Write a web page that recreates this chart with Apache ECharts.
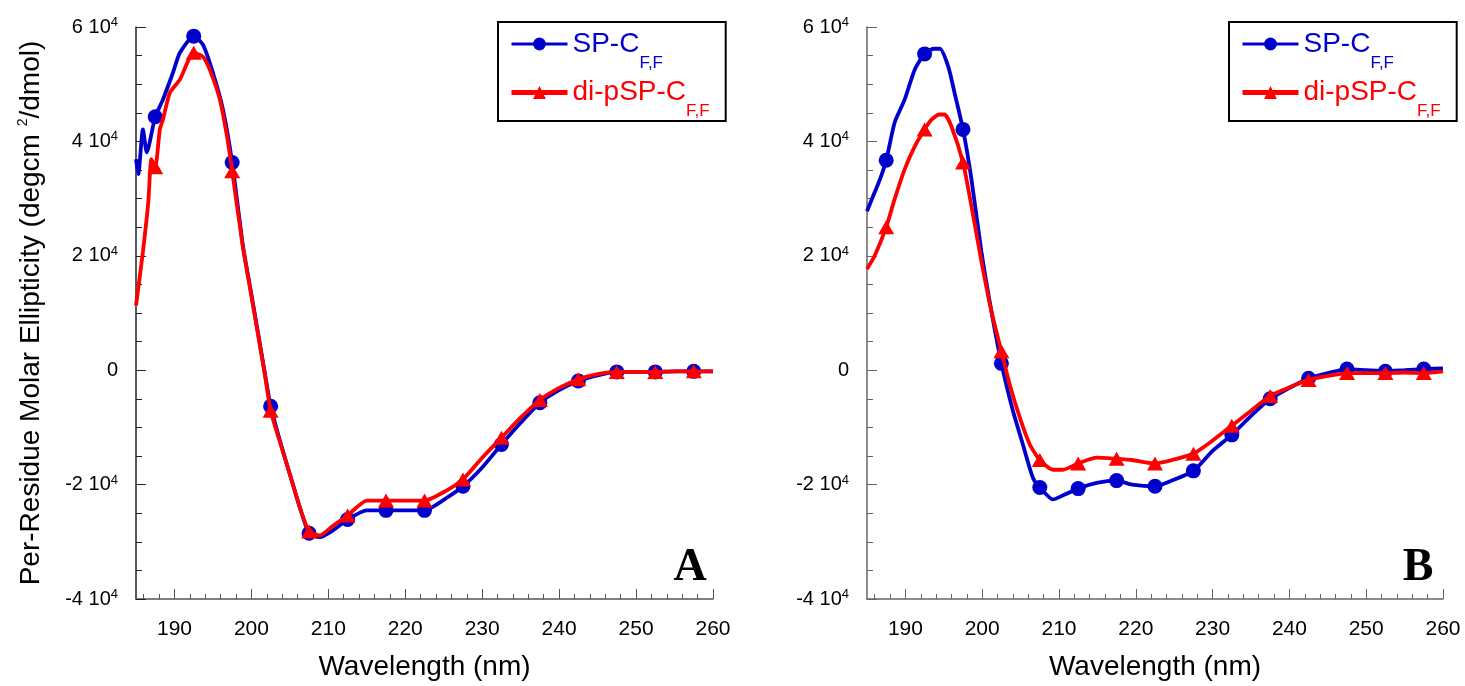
<!DOCTYPE html>
<html><head><meta charset="utf-8">
<script src="https://cdn.jsdelivr.net/npm/echarts@6/dist/echarts.min.js"></script>
<style>html,body{margin:0;padding:0;background:#fff}#c{width:1465px;height:686px}</style>
</head><body><div id="c"></div>
<script>
// ---- data ----
const seriesNames = ['SP-C', 'di-pSP-C'];
const panelLetters = ['A', 'B'];
const markerWavelengths = [187.5, 192.5, 197.5, 202.5, 207.5, 212.5, 217.5, 222.5, 227.5, 232.5, 237.5, 242.5, 247.5, 252.5, 257.5];
const xMajorTicks = [190, 200, 210, 220, 230, 240, 250, 260];
const xMinorTicks = [186, 188, 192, 194, 196, 198, 202, 204, 206, 208, 212, 214, 216, 218, 222, 224, 226, 228, 232, 234, 236, 238, 242, 244, 246, 248, 252, 254, 256, 258];
const yTicks = [-40000, -20000, 0, 20000, 40000, 60000];

// Panel A
const wlA_SP = [185,185.3,185.9,186.4,187.5,188.5,189.8,190.7,192.5,193.7,195,196.3,197.5,198.9,199.8,200.7,201.8,202.5,203.7,205,206.3,207.5,208.9,210.6,212.5,215,217.5,220,222.5,225.4,227.5,230,232.5,235,237.5,240,242.5,245,247.5,250,252.5,255,257.5,260];
const valA_SP = [36900,34300,42100,38100,44300,47300,52000,55500,58400,56900,52000,45600,36300,21700,14800,7800,-900,-6300,-12300,-18200,-24000,-28500,-29200,-28000,-26100,-24500,-24500,-24500,-24500,-22300,-20300,-17000,-13000,-9200,-5700,-3500,-1900,-900,-300,-300,-300,-200,-200,-200];
const wlA_DI = [185,185.9,186.6,187,187.5,188.1,188.5,189.4,190.7,192.5,193.7,194.6,195.9,196.9,197.5,198.9,199.8,200.7,201.8,202.5,203.7,205,206.3,207.5,208.9,210.6,212.5,215,217.5,220,222.5,225.4,227.5,230,232.5,235,237.5,240,242.5,245,247.5,250,252.5,255,257.5,260];
const valA_DI = [11300,20700,29400,36900,35500,42100,43800,48500,50800,55500,54800,52500,47300,40300,34800,21500,14500,7500,-1200,-7100,-12500,-18200,-24000,-28200,-28900,-27200,-25400,-22800,-22800,-22800,-22800,-21000,-19100,-15300,-11800,-8300,-5200,-3100,-1600,-700,-300,-300,-300,-200,-200,-200];

// Panel B
const wlB_SP = [185,186,186.7,187.5,188.6,189.9,191.2,192.5,193.7,194.5,195.6,196.4,197.5,198.6,199.9,201.2,202.5,204,205.3,206.6,207.5,209.2,210.5,212.5,214.9,217.5,219.5,222.5,224.7,227.5,230,232.5,235,237.5,240,242.5,245,247.5,250,252.5,255,257.5,260];
const valB_SP = [27800,31100,33400,36700,43300,47300,52500,55300,56200,56200,53000,48500,42100,33400,20700,10300,1200,-7100,-13000,-18800,-20500,-22600,-21900,-20700,-19700,-19300,-20000,-20300,-19300,-17600,-14100,-11300,-8000,-5000,-3100,-1400,-500,200,0,-200,0,200,300];
const wlB_DI = [185,186,187.5,188.6,189.9,191.2,192.5,193.4,194.4,195.1,196,197.5,198.6,199.9,201.2,202.5,203.6,204.9,206.2,207.5,209.2,210.5,212.5,214.9,217.5,219.5,222.5,224.7,227.5,230,232.5,235,237.5,240,242.5,245,247.5,250,252.5,255,257.5,260];
const valB_DI = [17700,20000,25000,29900,35100,39100,42100,43800,44700,44700,42600,36300,28700,19000,10300,3300,-2600,-8300,-13000,-15700,-17400,-17400,-16300,-15300,-15500,-15700,-16300,-15700,-14600,-12300,-9700,-7100,-4500,-3000,-1700,-1000,-500,-500,-500,-400,-500,-200];

// ---- chart ----
const FONT = '"Liberation Sans", Arial, Helvetica, sans-serif';
const BLUE = '#0000CC', RED = '#FF0000';

function build(wl, vals) {
  return wl.map((x, i) => markerWavelengths.indexOf(x) >= 0
    ? { value: [x, vals[i]] }
    : { value: [x, vals[i]], symbol: 'none' });
}

const gridL = { left: 136, right: 752, top: 27, bottom: 84 };
const gridR = { left: 867, right: 22, top: 27, bottom: 84 };

function yFmt(v) {
  if (v === 0) return '{n|0}';
  return '{n|' + (v / 10000) + ' 10}{p|4}';
}

function mkX(gi, color) {
  return [{
    type: 'value', gridIndex: gi, min: 185, max: 260, position: 'bottom',
    axisLine: { show: true, onZero: false, lineStyle: { color: color, width: 1.5 } },
    axisTick: { show: true, inside: true, length: 10, customValues: xMajorTicks, lineStyle: { color: color, width: 1 } },
    axisLabel: { show: true, customValues: xMajorTicks, fontSize: 21, color: '#000', fontFamily: FONT, margin: 20 },
    splitLine: { show: false },
    name: 'Wavelength (nm)', nameLocation: 'middle', nameGap: 54,
    nameTextStyle: { fontSize: 28, color: '#000', fontFamily: FONT }
  }, {
    type: 'value', gridIndex: gi, min: 185, max: 260, position: 'bottom',
    axisLine: { show: false, onZero: false },
    axisTick: { show: true, inside: true, length: 5, customValues: xMinorTicks, lineStyle: { color: color, width: 1 } },
    axisLabel: { show: false },
    splitLine: { show: false }
  }];
}

function mkY(gi, color, withName) {
  const y = {
    type: 'value', gridIndex: gi, min: -40000, max: 60000, interval: 20000,
    axisLine: { show: true, onZero: false, lineStyle: { color: color, width: 1.5 } },
    axisTick: { show: true, inside: true, length: 10, lineStyle: { color: color } },
    minorTick: { show: true, splitNumber: 4, length: 6, lineStyle: { color: color } },
    splitLine: { show: false },
    minorSplitLine: { show: false },
    axisLabel: {
      margin: 18, formatter: yFmt, color: '#000',
      rich: {
        n: { fontSize: 20, fontFamily: FONT, color: '#000', lineHeight: 24, verticalAlign: 'middle' },
        p: { fontSize: 13, fontFamily: FONT, color: '#000', lineHeight: 1, padding: [0, 0, 9, 0], verticalAlign: 'middle' }
      }
    }
  };
  if (withName) {
    y.name = '{t|Per-Residue Molar Ellipticity (degcm }{s|2}{t|/dmol)}';
    y.nameLocation = 'middle';
    y.nameGap = 88;
    y.nameRotate = 90;
    y.nameTextStyle = {
      rich: {
        t: { fontSize: 28, fontFamily: FONT, color: '#000', lineHeight: 34, verticalAlign: 'middle' },
        s: { fontSize: 14, fontFamily: FONT, color: '#000', lineHeight: 1, padding: [0, 0, 16, 0], verticalAlign: 'middle' }
      }
    };
  }
  return y;
}

function mkLegend(left) {
  return {
    left: left, top: 22, orient: 'vertical',
    borderColor: '#000', borderWidth: 2, padding: [8, 16, 1, 11],
    itemWidth: 56, itemHeight: 16, itemGap: 7,
    selectedMode: false,
    data: [
      { name: seriesNames[0], lineStyle: { width: 3 } },
      { name: seriesNames[1], lineStyle: { width: 5 } }
    ],
    formatter: function (name) {
      return name === seriesNames[0] ? '{a|SP-C}{as|F,F}' : '{b|di-pSP-C}{bs|F,F}';
    },
    textStyle: {
      rich: {
        a: { fontSize: 28, fontFamily: FONT, color: BLUE, lineHeight: 34, verticalAlign: 'middle' },
        as: { fontSize: 17, fontFamily: FONT, color: BLUE, lineHeight: 1, padding: [19, 0, -19, 0], verticalAlign: 'middle' },
        b: { fontSize: 28, fontFamily: FONT, color: RED, lineHeight: 34, verticalAlign: 'middle' },
        bs: { fontSize: 17, fontFamily: FONT, color: RED, lineHeight: 1, padding: [19, 0, -19, 0], verticalAlign: 'middle' }
      }
    }
  };
}

function mkSeries(name, wl, vals, gi) {
  const isSP = name === seriesNames[0];
  const c = isSP ? BLUE : RED;
  return {
    type: 'line', name: name, xAxisIndex: gi * 2, yAxisIndex: gi,
    data: build(wl, vals),
    symbol: isSP ? 'circle' : 'triangle',
    symbolSize: isSP ? 15 : [16, 14],
    showSymbol: true,
    smooth: 0.2,
    lineStyle: { color: c, width: 3.8 },
    itemStyle: { color: c },
    emphasis: { disabled: true },
    z: isSP ? 2 : 3
  };
}

const chart = echarts.init(document.getElementById('c'), null, { renderer: 'canvas' });
chart.setOption({
  animation: false,
  backgroundColor: '#fff',
  grid: [gridL, gridR],
  xAxis: mkX(0, '#555').concat(mkX(1, '#666')),
  yAxis: [mkY(0, '#222', true), mkY(1, '#666', false)],
  legend: [mkLegend(498), mkLegend(1229)],
  series: [
    mkSeries(seriesNames[0], wlA_SP, valA_SP, 0),
    mkSeries(seriesNames[1], wlA_DI, valA_DI, 0),
    mkSeries(seriesNames[0], wlB_SP, valB_SP, 1),
    mkSeries(seriesNames[1], wlB_DI, valB_DI, 1)
  ],
  graphic: [
    { type: 'text', x: 690, y: 568, style: { text: panelLetters[0], fontSize: 46, fontWeight: 'bold', fontFamily: '"Liberation Serif", "Times New Roman", serif', fill: '#000', align: 'center', verticalAlign: 'middle' } },
    { type: 'text', x: 1418, y: 568, style: { text: panelLetters[1], fontSize: 46, fontWeight: 'bold', fontFamily: '"Liberation Serif", "Times New Roman", serif', fill: '#000', align: 'center', verticalAlign: 'middle' } }
  ]
});
</script>
</body></html>
